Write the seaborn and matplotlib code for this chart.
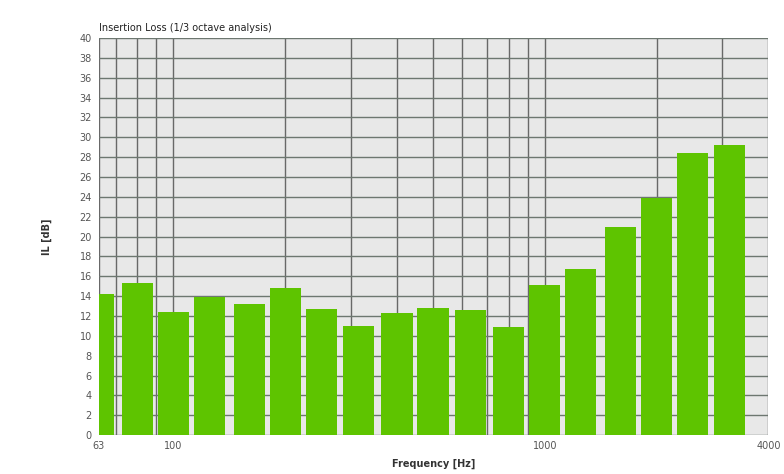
import numpy as np
import matplotlib
matplotlib.use("Agg")
import matplotlib.pyplot as plt
import matplotlib.ticker as mticker
import seaborn as sns

# 1/3 octave band centre frequencies [Hz]
bands = [63, 80, 100, 125, 160, 200, 250, 315, 400, 500, 630, 800,
         1000, 1250, 1600, 2000, 2500, 3150]
# Insertion loss per band [dB]
il_db = [14.2, 15.3, 12.35, 13.9, 13.25, 14.8, 12.75, 11.0, 12.25, 12.8,
         12.6, 10.9, 15.1, 16.7, 21.0, 23.9, 28.4, 29.2]
x_ticks = [63, 100, 1000, 4000]
y_ticks = list(range(0, 41, 2))

sns.set_theme(style="whitegrid")
plt.rcParams["font.family"] = ["DejaVu Sans"]

fig = plt.figure(figsize=(7.84, 4.74), dpi=100)
ax = fig.add_axes([0.126, 0.082, 0.854, 0.838])
ax.set_facecolor("#e8e8e8")

ax.set_xscale("log")
ax.set_xlim(63, 4000)
ax.set_ylim(0, 40)

# bars span a fixed fraction of the band in log-frequency
f = np.array(bands, dtype=float)
half = 10 ** 0.042
left = f / half
right = f * half
ax.bar(left, il_db, width=right - left, align="edge",
       color="#5ec400", edgecolor="none", zorder=3)

ax.xaxis.set_major_locator(mticker.FixedLocator(x_ticks))
ax.xaxis.set_major_formatter(mticker.FixedFormatter([str(t) for t in x_ticks]))
ax.xaxis.set_minor_locator(mticker.LogLocator(base=10, subs=np.arange(2, 10)))
ax.xaxis.set_minor_formatter(mticker.NullFormatter())
ax.set_yticks(y_ticks)

ax.grid(True, which="both", axis="x", color="#686868", linewidth=1.0, zorder=1)
ax.grid(True, which="major", axis="y", color="#6d7770", linewidth=1.0, zorder=1)
ax.set_axisbelow(True)

for s in ax.spines.values():
    s.set_visible(False)

ax.tick_params(axis="both", which="major", labelsize=7, colors="#555555",
               length=3, width=0.8, direction="out", pad=2)
ax.tick_params(axis="x", which="minor", length=0)
ax.tick_params(axis="x", which="major", length=2)

ax.set_title("Insertion Loss (1/3 octave analysis)", loc="left",
             fontsize=7, color="#222222", pad=5, x=0.0)
ax.set_xlabel("Frequency [Hz]", fontsize=7, fontweight="bold", color="#333333",
              labelpad=6)
ax.set_ylabel("IL [dB]", fontsize=7, fontweight="bold", color="#333333",
              labelpad=20)

fig.savefig("out.png", dpi=100, facecolor="white")
